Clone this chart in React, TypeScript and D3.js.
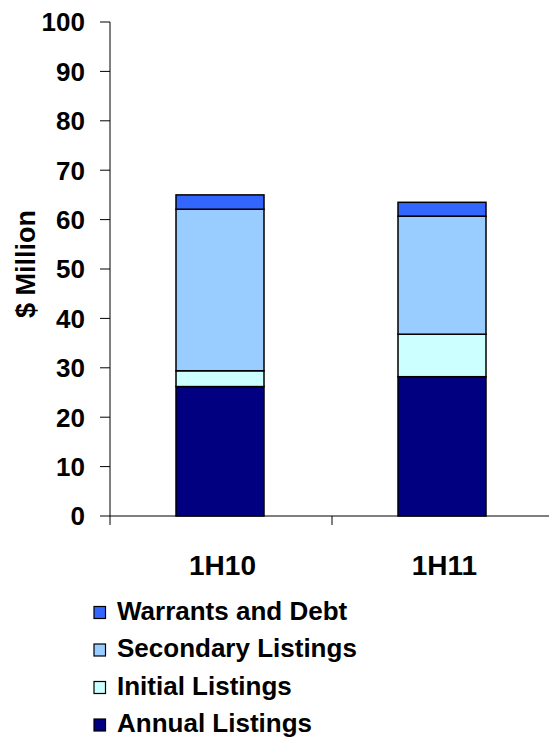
import React from 'react';
import * as d3 from 'd3';

const categories = ['1H10', '1H11'];
const seriesNames = ['Annual Listings', 'Initial Listings', 'Secondary Listings', 'Warrants and Debt'];
const annualListings = [26.2, 28.2];
const initialListings = [3.2, 8.6];
const secondaryListings = [32.7, 23.9];
const warrantsAndDebt = [2.9, 2.8];
const yTicks = [0, 10, 20, 30, 40, 50, 60, 70, 80, 90, 100];
const colors = ['#000080', '#CCFFFF', '#99CCFF', '#3366FF'];

const width = 549;
const height = 739;
const margin = { top: 22, left: 110, bottom: 223 };

const App: React.FC = () => {
  const innerH = height - margin.top - margin.bottom;
  // band range runs a little past the picture edge, as in the original plot area
  const x = d3.scaleBand().domain(categories).range([margin.left, 554]).padding(0);
  const y = d3.scaleLinear().domain([0, 100]).range([margin.top + innerH, margin.top]);

  const rows = categories.map((c, i) => ({
    cat: c,
    'Annual Listings': annualListings[i],
    'Initial Listings': initialListings[i],
    'Secondary Listings': secondaryListings[i],
    'Warrants and Debt': warrantsAndDebt[i],
  }));
  const stacked = d3.stack<any>().keys(seriesNames)(rows);
  const barW = 88;
  const legendOrder = [...seriesNames].reverse();
  const center = (c: string) => (x(c) as number) + x.bandwidth() / 2;

  return (
    <svg width={width} height={height} style={{ position: 'absolute', left: 0, top: 0 }}
      fontFamily="'Liberation Sans', Arial, sans-serif" fontWeight="bold">
      {stacked.map((s, si) => (
        <g key={s.key}>
          {s.map((d, i) => {
            const cx = center(categories[i]) - 1;
            return (
              <rect key={i} x={cx - barW / 2} width={barW} y={y(d[1])} height={y(d[0]) - y(d[1])}
                fill={colors[si]} stroke="#000" strokeWidth={1.5} />
            );
          })}
        </g>
      ))}
      {/* y axis */}
      <line x1={margin.left} x2={margin.left} y1={y(100)} y2={y(0) + 9} stroke="#000" strokeWidth={1} />
      {yTicks.map(t => (
        <g key={t}>
          <line x1={margin.left - 10} x2={margin.left} y1={y(t)} y2={y(t)} stroke="#000" strokeWidth={1} />
          <text x={85} y={y(t)} dy="0.36em" textAnchor="end" fontSize={26}>{t}</text>
        </g>
      ))}
      {/* x axis */}
      <line x1={margin.left} x2={width} y1={y(0)} y2={y(0)} stroke="#000" strokeWidth={1} />
      {categories.slice(1).map(c => (
        <line key={c} x1={x(c) as number} x2={x(c) as number} y1={y(0)} y2={y(0) + 9} stroke="#000" strokeWidth={1} />
      ))}
      {categories.map(c => (
        <text key={c} x={center(c) + 1.5} y={575} textAnchor="middle" fontSize={28}>{c}</text>
      ))}
      <text transform={`translate(35,${(y(0) + y(100)) / 2 - 5}) rotate(-90)`} textAnchor="middle" fontSize={27}>$ Million</text>
      {/* legend */}
      {legendOrder.map((name, i) => {
        const base = 619.5 + i * 37.5;
        return (
          <g key={name}>
            <rect x={94} y={base - 13} width={11.5} height={12} fill={colors[seriesNames.indexOf(name)]} stroke="#000" strokeWidth={1.2} />
            <text x={117} y={base} fontSize={26}>{name}</text>
          </g>
        );
      })}
    </svg>
  );
};

export default App;
